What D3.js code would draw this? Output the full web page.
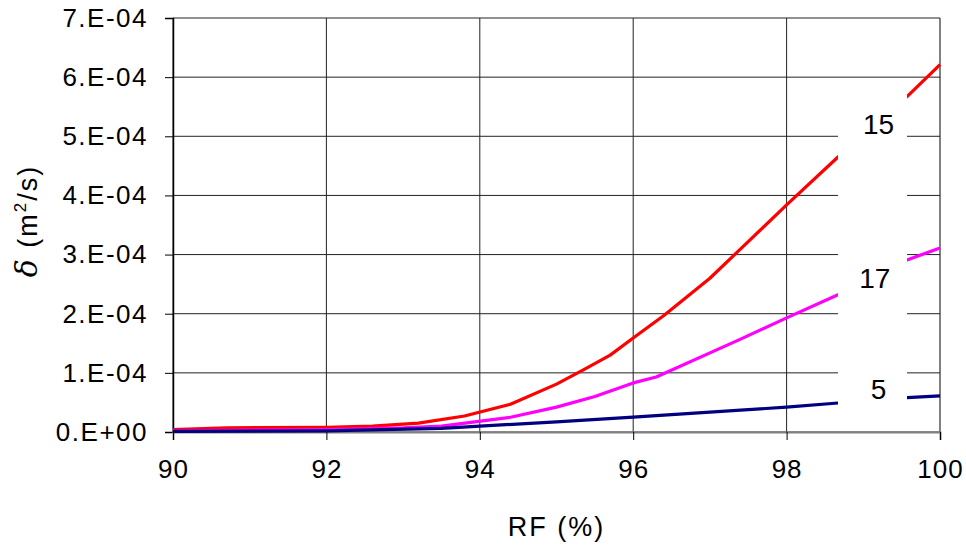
<!DOCTYPE html>
<html><head><meta charset="utf-8">
<script src="https://cdn.jsdelivr.net/npm/d3@7"></script>
<style>body{margin:0;background:#fff}svg{display:block}text{font-family:"Liberation Sans",Arial,sans-serif}</style>
</head><body>
<svg id="c" width="966" height="546"></svg>
<script>
const xTicks = [90, 92, 94, 96, 98, 100];
const yTicks = [0, 1e-4, 2e-4, 3e-4, 4e-4, 5e-4, 6e-4, 7e-4];
const yTickLabels = ["0.E+00","1.E-04","2.E-04","3.E-04","4.E-04","5.E-04","6.E-04","7.E-04"];
const rf15 = [90, 90.7, 92, 92.6, 93.2, 93.8, 94.4, 95, 95.35, 95.7, 96, 96.4, 97, 97.5, 98, 98.67, 99.57, 100];
const d15 = [0.04, 0.07, 0.08, 0.1, 0.15, 0.27, 0.47, 0.81, 1.05, 1.3, 1.59, 1.97, 2.6, 3.22, 3.84, 4.65, 5.67, 6.21].map(v => v * 1e-4);
const rf17 = [90, 92, 93, 93.5, 94.4, 95, 95.5, 96, 96.3, 97.4, 98, 98.67, 99.57, 100];
const d17 = [0.02, 0.04, 0.07, 0.1, 0.25, 0.42, 0.6, 0.83, 0.93, 1.57, 1.93, 2.32, 2.91, 3.11].map(v => v * 1e-4);
const rf5 = [90, 92, 93.5, 94, 95, 96, 97.4, 98, 98.67, 99.57, 100];
const d5 = [0.01, 0.02, 0.06, 0.1, 0.17, 0.25, 0.37, 0.42, 0.49, 0.58, 0.61].map(v => v * 1e-4);
const seriesNames = ["15", "17", "5"];
const seriesColors = ["#ff0000", "#ff00ff", "#000080"];
const labelX = [99.2, 99.15, 99.2];
const labelY = [5.2e-4, 2.6e-4, 0.72e-4];

const FONT = '"Liberation Sans",Arial,sans-serif';
const svg = d3.select("#c");
const L = 173, R = 940, T = 18, B = 432;
const x = d3.scaleLinear().domain([90, 100]).range([L, R]);
const y = d3.scaleLinear().domain([0, 7e-4]).range([B, T]);

// grid
svg.append("g").selectAll("line").data(xTicks).join("line")
  .attr("x1", d => x(d)).attr("x2", d => x(d)).attr("y1", T).attr("y2", B)
  .attr("stroke", d => d === 100 ? "#808080" : "#222").attr("stroke-width", d => d === 100 ? 2 : 1);
svg.append("g").selectAll("line").data(yTicks).join("line")
  .attr("x1", L).attr("x2", R).attr("y1", d => y(d)).attr("y2", d => y(d))
  .attr("stroke", "#222").attr("stroke-width", 1);

// axes
const yAxis = svg.append("g").attr("transform", `translate(${L},0)`)
  .call(d3.axisLeft(y).tickValues(yTicks).tickFormat((d, i) => yTickLabels[i]).tickSize(8).tickPadding(17));
yAxis.select(".domain").attr("stroke", "#000").attr("stroke-width", 1.5);
yAxis.selectAll(".tick line").attr("stroke", "#000");
yAxis.selectAll("text").attr("font-size", 26).attr("letter-spacing", 1.5).attr("fill", "#000").attr("font-family", FONT);

const xAxis = svg.append("g").attr("transform", `translate(0,${B})`)
  .call(d3.axisBottom(x).tickValues(xTicks).tickFormat(d3.format("d")).tickSize(8).tickPadding(20));
xAxis.select(".domain").attr("stroke", "#808080").attr("stroke-width", 2);
xAxis.selectAll(".tick line").attr("stroke", "#000");
xAxis.selectAll("text").attr("font-size", 26).attr("letter-spacing", 1).attr("fill", "#000").attr("font-family", FONT);

// lines
const data = [rf15.map((v, i) => [v, d15[i]]), rf17.map((v, i) => [v, d17[i]]), rf5.map((v, i) => [v, d5[i]])];
const line = d3.line().x(d => x(d[0])).y(d => y(d[1]));
svg.append("g").selectAll("path").data(data).join("path")
  .attr("d", line).attr("fill", "none")
  .attr("stroke", (d, i) => seriesColors[i]).attr("stroke-width", 3.2).attr("stroke-linejoin", "round");

// label boxes
const boxL = x(98.67), boxR = x(99.57);
const boxes = [[95, 230], [230, 340], [340, 410]];
svg.append("g").selectAll("rect").data(boxes).join("rect")
  .attr("x", boxL).attr("width", boxR - boxL).attr("y", d => d[0]).attr("height", d => d[1] - d[0])
  .attr("fill", "#fff");
svg.append("g").selectAll("text").data(seriesNames).join("text")
  .attr("x", (d, i) => x(labelX[i])).attr("y", (d, i) => y(labelY[i]))
  .attr("text-anchor", "middle").attr("dominant-baseline", "central")
  .attr("font-size", 28).attr("fill", "#000").text(d => d);

// axis titles
svg.append("text").attr("x", (L + R) / 2).attr("y", 536).attr("text-anchor", "middle")
  .attr("font-size", 27).attr("letter-spacing", 2).text("RF (%)");
const yt = svg.append("text").attr("transform", "translate(37,221) rotate(-90)").attr("text-anchor", "middle").attr("font-size", 27).attr("letter-spacing", 2);
yt.append("tspan").attr("font-style", "italic").attr("font-family", '"DejaVu Serif",serif').attr("font-size", 30).text("δ");
yt.append("tspan").text(" (m");
yt.append("tspan").attr("font-size", 17).attr("dy", -11).text("2");
yt.append("tspan").attr("dy", 11).text("/s)");
</script>
</body></html>
